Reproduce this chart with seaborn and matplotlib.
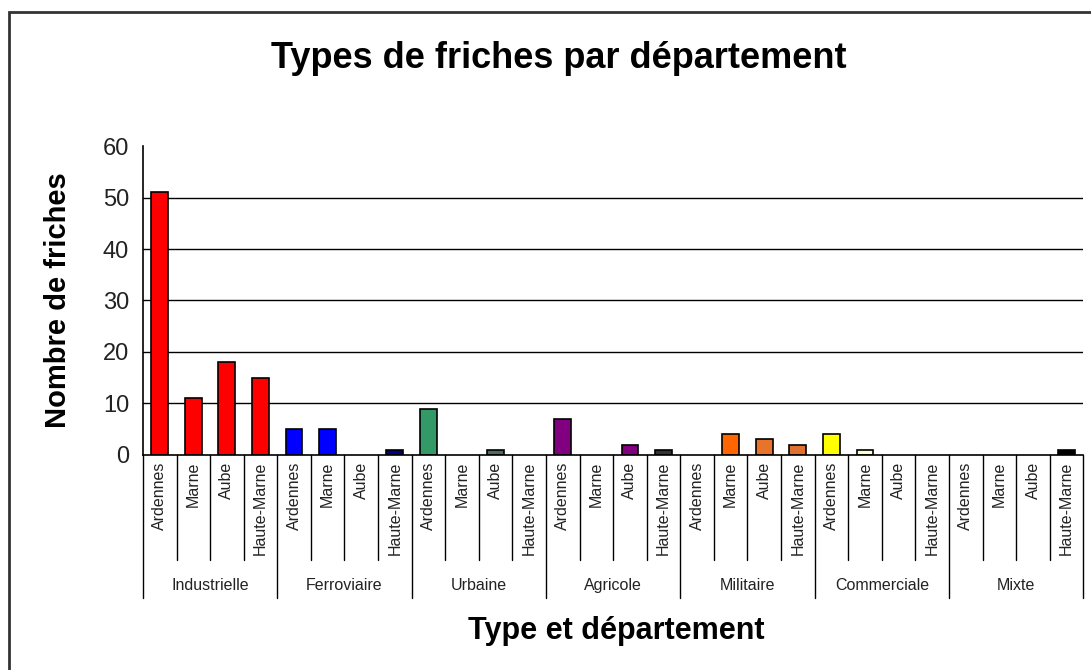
import matplotlib
matplotlib.use("Agg")
import matplotlib.pyplot as plt
import pandas as pd
import seaborn as sns
from matplotlib.patches import Rectangle

# données
types = ["Industrielle", "Ferroviaire", "Urbaine", "Agricole", "Militaire", "Commerciale", "Mixte"]
departements = ["Ardennes", "Marne", "Aube", "Haute-Marne"]
industrielle = [51, 11, 18, 15]
ferroviaire = [5, 5, 0, 1]
urbaine = [9, 0, 1, 0]
agricole = [7, 0, 2, 1]
militaire = [0, 4, 3, 2]
commerciale = [4, 1, 0, 0]
mixte = [0, 0, 0, 1]
couleurs = [
    "#ff0000", "#ff0000", "#ff0000", "#ff0000",
    "#0000ff", "#0000ff", "#0000ff", "#000080",
    "#339966", "#339966", "#4d6b5e", "#339966",
    "#800080", "#800080", "#800080", "#333333",
    "#ff6600", "#ff6600", "#e8742c", "#e07030",
    "#ffff00", "#ffffcc", "#ffffcc", "#ffffcc",
    "#000000", "#000000", "#000000", "#000000",
]

valeurs = industrielle + ferroviaire + urbaine + agricole + militaire + commerciale + mixte
df = pd.DataFrame({
    "type": [t for t in types for _ in departements],
    "departement": departements * len(types),
    "nombre": valeurs,
})
df["pos"] = [str(i) for i in range(len(df))]

sns.set_theme(style="white")
plt.rcParams["font.family"] = ["Liberation Sans", "DejaVu Sans"]
plt.rcParams["text.color"] = "black"

fig = plt.figure(figsize=(10.91, 6.7), dpi=100)
ax = fig.add_axes([0.131, 0.321, 0.862, 0.461])

sns.barplot(
    data=df, x="pos", y="nombre", hue="pos", palette=couleurs, legend=False,
    width=0.5, edgecolor="black", linewidth=1.2, ax=ax, errorbar=None,
    saturation=1,
)
# barres nulles : pas de contour visible
for p, v in zip(ax.patches, valeurs):
    if v == 0:
        p.set_linewidth(0)

ax.set_xlim(-0.5, len(df) - 0.5)
ax.set_ylim(0, 60)
ax.set_yticks(range(0, 61, 10))
ax.tick_params(axis="y", labelsize=17, colors="black", direction="inout",
               length=12, width=1, labelcolor="#222222", pad=4)
ax.set_xticks([])
ax.set_xlabel("")
ax.set_ylabel("Nombre de friches", fontsize=21, fontweight="bold", labelpad=22,
              color="black")
for y in range(10, 60, 10):
    ax.axhline(y, color="black", lw=1, zorder=0)
for s in ["top", "right"]:
    ax.spines[s].set_visible(False)
for s in ["left", "bottom"]:
    ax.spines[s].set_color("black")
    ax.spines[s].set_linewidth(1.2)

# axe des catégories à deux niveaux
tr = ax.get_xaxis_transform()
for i in range(len(df) + 1):
    fin = -0.463 if i % 4 == 0 else -0.340
    ax.plot([i - 0.5, i - 0.5], [0, fin], transform=tr, color="black",
            lw=1, clip_on=False)
for i, d in enumerate(df["departement"]):
    ax.text(i, -0.022, d, transform=tr, rotation=90, ha="center", va="top",
            fontsize=11.5, color="#222222")
for k, t in enumerate(types):
    ax.text(4 * k + 1.5, -0.424, t, transform=tr, ha="center", va="center",
            fontsize=11.5, color="#222222")

fig.text(0.512, 0.912, "Types de friches par département", ha="center",
         va="center", fontsize=26, fontweight="bold")
fig.text(0.565, 0.058, "Type et département", ha="center", va="center",
         fontsize=22, fontweight="bold")

fig.patches.append(Rectangle((0.008, -0.05), 1.1, 1.032, transform=fig.transFigure,
                             fill=False, edgecolor="#333333", lw=2))

fig.savefig("out.png", dpi=100)
